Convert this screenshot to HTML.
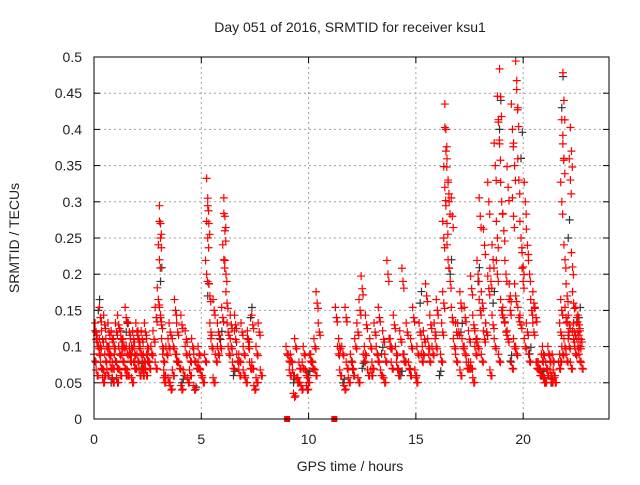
<!DOCTYPE html>
<html><head><meta charset="utf-8"><style>
body{margin:0;background:#fff;width:640px;height:480px;overflow:hidden}
svg text{font-family:"Liberation Sans",sans-serif;fill:#222}
</style></head><body>
<svg id="chart" width="640" height="480" xmlns="http://www.w3.org/2000/svg">
<text x="350" y="32" font-size="14" text-anchor="middle">Day 051 of 2016, SRMTID for receiver ksu1</text>
<text x="350" y="471" font-size="14" text-anchor="middle">GPS time / hours</text>
<text transform="translate(19,238) rotate(-90)" font-size="14" text-anchor="middle">SRMTID / TECUs</text>
<g id="grid"></g>
<g id="axes"></g>
<g id="black"></g>
<g id="red"></g>
<rect x="94" y="57" width="515" height="362" fill="none" stroke="#000" stroke-width="1"/>
</svg>
<script>
const xTicks=[0,5,10,15,20];
const yTicks=[0,0.05,0.1,0.15,0.2,0.25,0.3,0.35,0.4,0.45,0.5];
const yTickLabels=["0","0.05","0.1","0.15","0.2","0.25","0.3","0.35","0.4","0.45","0.5"];
const redHours=[0.05,0.1,0.15,0.2,0.25,0.3,0.35,0.4,0.45,0.5,0.55,0.6,0.65,0.7,0.75,0.8,0.85,0.9,0.95,1.0,1.05,1.1,1.15,1.2,1.25,1.3,1.35,1.4,1.45,1.5,1.55,1.6,1.65,1.7,1.75,1.8,1.85,1.9,1.95,2.0,2.05,2.1,2.15,2.2,2.25,2.3,2.35,2.4,2.45,2.5,2.55,2.6,2.7,2.8,2.9,3.0,3.05,3.1,3.1,3.1,3.15,3.2,3.25,3.3,3.4,3.5,3.55,3.6,3.7,3.8,3.85,3.9,4.0,4.1,4.2,4.3,4.4,4.5,4.6,4.7,4.8,4.9,5.0,5.1,5.2,5.25,5.3,5.3,5.35,5.4,5.45,5.5,5.6,5.7,5.8,5.9,6.0,6.05,6.1,6.1,6.15,6.2,6.25,6.3,6.4,6.5,6.6,6.7,6.8,6.9,7.0,7.1,7.2,7.3,7.4,7.5,7.6,7.7,7.8,
0.1,0.3,0.5,0.7,0.9,1.1,1.3,1.5,1.7,1.9,2.1,2.3,2.5,2.7,2.9,3.3,3.5,3.7,3.9,4.1,4.3,4.5,4.7,4.9,5.6,5.8,6.4,6.6,6.8,7.0,7.2,7.4,7.6,
9.0,9.1,9.2,9.3,9.4,9.5,9.6,9.7,9.8,9.9,10.0,10.1,10.2,10.3,10.4,10.5,9.15,9.35,9.55,9.75,9.95,10.15,10.35,
11.3,11.4,11.5,11.6,11.7,11.8,11.9,12.0,12.1,12.2,12.3,12.4,12.5,12.6,12.7,12.8,12.9,13.0,13.1,13.2,13.3,13.4,13.5,13.6,13.7,13.8,13.9,14.0,14.1,14.2,14.3,14.4,14.5,14.6,14.7,14.8,14.9,15.0,15.1,15.2,15.3,15.4,15.5,15.6,15.7,15.8,15.9,16.0,
11.45,11.75,12.05,12.35,12.65,12.95,13.25,13.55,13.85,14.15,14.45,14.75,15.05,15.35,15.65,15.95,
16.2,16.25,16.3,16.3,16.35,16.4,16.4,16.45,16.5,16.5,16.55,16.6,16.7,16.8,16.9,17.0,17.1,17.2,17.3,17.4,17.5,17.6,17.7,17.8,17.9,18.0,18.1,18.2,18.3,18.4,18.5,18.6,18.7,18.8,18.85,18.9,18.95,19.0,19.1,19.2,19.3,19.4,19.5,19.55,19.6,19.65,19.7,19.75,19.8,19.9,20.0,20.1,20.2,20.3,20.4,
16.7,16.9,17.1,17.3,17.5,17.7,17.9,18.1,18.3,18.5,18.7,18.9,19.1,19.3,19.5,19.7,19.9,20.1,20.3,20.5,
17.6,17.8,18.0,18.2,18.4,18.6,18.8,19.0,19.2,19.4,19.6,19.8,20.0,20.2,
20.5,20.6,20.7,20.8,20.9,21.0,21.1,21.2,21.3,21.4,21.5,20.65,20.85,21.05,21.25,21.45,20.75,20.95,21.15,21.35,
21.7,21.75,21.8,21.8,21.85,21.9,21.9,21.95,22.0,22.05,22.1,22.15,22.2,22.25,22.3,22.35,22.4,22.45,22.5,22.55,22.6,22.65,22.7,22.75,
21.75,21.85,21.95,22.05,22.15,22.25,22.35,22.45,22.55,22.65];
const redValues=[0.08,0.12,0.06,0.1,0.09,0.14,0.07,0.11,0.05,0.13,0.08,0.1,0.06,0.12,0.09,0.07,0.11,0.05,0.1,0.08,0.12,0.07,0.13,0.09,0.06,0.11,0.08,0.1,0.07,0.14,0.09,0.06,0.12,0.08,0.1,0.05,0.11,0.09,0.07,0.12,0.08,0.1,0.06,0.09,0.11,0.07,0.08,0.12,0.06,0.1,0.08,0.07,0.09,0.11,0.14,0.165,0.22,0.27,0.25,0.14,0.13,0.1,0.08,0.06,0.09,0.05,0.12,0.04,0.1,0.15,0.08,0.12,0.07,0.13,0.06,0.09,0.05,0.08,0.1,0.04,0.07,0.09,0.06,0.05,0.08,0.2,0.305,0.25,0.27,0.17,0.12,0.1,0.15,0.08,0.12,0.1,0.14,0.22,0.28,0.26,0.2,0.16,0.12,0.09,0.13,0.07,0.11,0.08,0.06,0.12,0.09,0.05,0.1,0.07,0.13,0.04,0.09,0.12,0.06,0.11,0.1,
0.06,0.09,0.07,0.05,0.1,0.06,0.09,0.07,0.11,0.06,0.08,0.09,0.07,0.05,0.1,0.06,0.08,0.04,0.11,0.06,0.08,0.07,0.05,0.09,0.1,0.13,0.08,0.06,0.11,0.07,0.05,0.09,0.08,
0.08,0.06,0.1,0.05,0.07,0.04,0.09,0.06,0.05,0.08,0.07,0.1,0.16,0.12,0.06,0.03,0.05,0.07,0.04,0.08,0.06,0.14,0.09,
0.06,0.09,0.04,0.07,0.05,0.08,0.06,0.1,0.12,0.15,0.18,0.08,0.13,0.06,0.1,0.07,0.12,0.09,0.14,0.06,0.11,0.08,0.2,0.1,0.07,0.13,0.09,0.06,0.11,0.19,0.08,0.12,0.07,0.1,0.14,0.06,0.09,0.12,0.08,0.11,0.17,0.1,0.13,0.09,0.12,0.15,0.1,0.14,
0.07,0.05,0.09,0.06,0.08,0.05,0.1,0.07,0.08,0.06,0.05,0.09,0.08,0.1,0.08,0.12,
0.16,0.25,0.32,0.4,0.37,0.27,0.22,0.33,0.3,0.19,0.14,0.1,0.08,0.12,0.16,0.1,0.14,0.07,0.11,0.18,0.13,0.09,0.2,0.28,0.16,0.24,0.12,0.3,0.19,0.22,0.35,0.25,0.41,0.38,0.445,0.3,0.26,0.2,0.32,0.15,0.4,0.28,0.35,0.17,0.455,0.43,0.33,0.25,0.21,0.3,0.24,0.2,0.15,0.28,0.12,
0.06,0.09,0.07,0.05,0.1,0.08,0.12,0.06,0.1,0.08,0.14,0.11,0.07,0.09,0.13,0.1,0.08,0.12,0.07,0.11,
0.15,0.11,0.18,0.13,0.2,0.15,0.12,0.17,0.1,0.14,0.19,0.12,0.16,0.14,
0.07,0.06,0.08,0.05,0.07,0.09,0.06,0.08,0.05,0.07,0.06,0.05,0.08,0.06,0.07,0.09,0.06,0.05,0.07,0.08,
0.15,0.3,0.38,0.36,0.44,0.22,0.14,0.17,0.12,0.1,0.33,0.37,0.21,0.16,0.12,0.09,0.14,0.1,0.13,0.08,0.11,0.07,0.12,0.09,
0.1,0.08,0.13,0.07,0.11,0.09,0.12,0.1,0.08,0.11];
const blackHours=[0.2,0.8,1.5,2.2,3.1,4.1,4.7,5.3,5.9,6.5,7.3,9.3,10.0,11.6,12.5,13.4,14.3,15.2,16.1,16.6,17.1,17.9,18.6,18.9,19.4,19.9,20.3,20.9,21.3,21.8,22.1,22.6];
const blackValues=[0.15,0.05,0.12,0.07,0.19,0.05,0.04,0.17,0.11,0.06,0.14,0.05,0.06,0.05,0.07,0.09,0.06,0.16,0.06,0.2,0.12,0.19,0.16,0.4,0.08,0.36,0.09,0.06,0.05,0.43,0.25,0.14];
const zeroHours=[9.0,11.2];
const NS="http://www.w3.org/2000/svg";
const X0=94,X1=609,Y0=419,Y1=57;
const xs=h=>X0+(h/24)*(X1-X0);
const ys=v=>Y0-(v/0.5)*(Y0-Y1);
function mk(tag,attrs,parent){const e=document.createElementNS(NS,tag);for(const k in attrs)e.setAttribute(k,attrs[k]);parent.appendChild(e);return e;}
const grid=document.getElementById('grid'),axes=document.getElementById('axes');
yTicks.forEach((v,i)=>{const y=ys(v);
 if(i>0&&i<yTicks.length-1){const g=mk('line',{x1:X0,x2:X1,y1:y,y2:y,stroke:'#a0a0a0','stroke-dasharray':'2,3'},grid);
 
 }
 mk('line',{x1:X0,x2:X0+6,y1:y,y2:y,stroke:'#000'},axes);
 mk('line',{x1:X1-6,x2:X1,y1:y,y2:y,stroke:'#000'},axes);
 const t=mk('text',{x:X0-12,y:y+5,'font-size':14,'text-anchor':'end'},axes);t.textContent=yTickLabels[i];
 
 
});
xTicks.forEach(h=>{const x=xs(h);
 if(h>0){const g=mk('line',{x1:x,x2:x,y1:Y1,y2:Y0,stroke:'#a0a0a0','stroke-dasharray':'2,3'},grid);
 
 }
 mk('line',{x1:x,x2:x,y1:Y0,y2:Y0-6,stroke:'#000'},axes);
 mk('line',{x1:x,x2:x,y1:Y1,y2:Y1+6,stroke:'#000'},axes);
 const t=mk('text',{x:x,y:Y0+25,'font-size':14,'text-anchor':'middle'},axes);t.textContent=String(h);
 
 
});
function plus(g,h,v,c,name){const x=xs(h),y=ys(v);
 const p=mk('path',{d:`M${x-4},${y}H${x+4}M${x},${y-4}V${y+4}`,stroke:c,'stroke-width':1.2,fill:'none'},g);
 
 }
const bg=document.getElementById('black'),rg=document.getElementById('red');
blackHours.forEach((h,i)=>plus(bg,h,blackValues[i],'#333','black-point'));
blackHours.forEach((h,i)=>plus(bg,h+0.06,blackValues[i]*1.1,'#333','black-point'));
redHours.forEach((h,i)=>plus(rg,h,redValues[i],'#f00','red-point'));
redHours.forEach((h,i)=>plus(rg,h+0.04,redValues[i]*0.93+0.004,'#f00','red-point'));
redHours.forEach((h,i)=>plus(rg,h-0.05,redValues[i]*1.08+0.003,'#f00','red-point'));
zeroHours.forEach(h=>{const r=mk('rect',{x:xs(h)-3,y:Y0-3,width:6,height:6,fill:'#f00'},rg);
 
 });
</script>
</body></html>
